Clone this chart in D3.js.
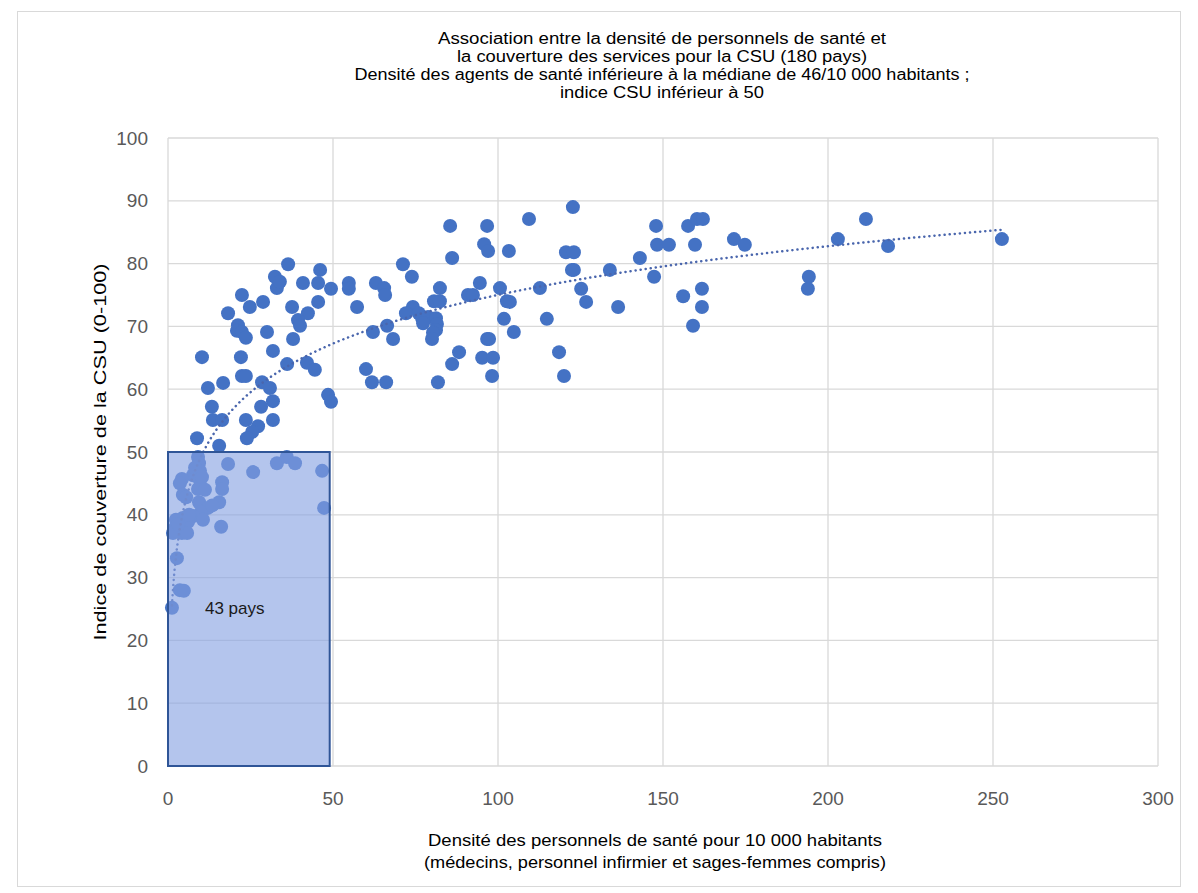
<!DOCTYPE html>
<html>
<head>
<meta charset="utf-8">
<script src="https://cdn.jsdelivr.net/npm/d3@7"></script>
<style>
  body { margin: 0; background: #fff; }
  text { font-family: "Liberation Sans", Arial, sans-serif; }
</style>
</head>
<body>
<div id="chart"></div>
<script>
// Density of health workers per 10 000 (x) vs UHC index (y)
const densite = [
    32.4, 33, 22.4, 24.8, 28.8, 18.2, 21.2, 20.9, 22.4, 23.6, 30, 31.8, 10.3, 22.1, 22.4, 23.6,
    28.5, 16.7, 12.1, 30.9, 31.8, 13.3, 28.2, 13.6, 16.4, 23.6, 31.8, 27.3, 25.5, 23.9, 8.8, 15.5,
    36.4, 33.9, 40.9, 45.5, 46.1, 49.4, 54.8, 54.8, 57.3, 37.6, 42.4, 45.5, 39.4, 40, 37.9, 36.1,
    42.1, 44.5, 60, 48.5, 49.4,
    109.4, 85.5, 96.7, 95.8, 97, 103.3, 86.1, 71.2, 73.9, 63, 65.5, 65.8, 82.4, 94.5, 100.6, 112.7,
    90.9, 92.4, 102.7, 103.6, 80.6, 82.4, 74.2, 72.1, 76, 77, 78.8, 81.2, 77.3, 81.5, 81.2, 80.3,
    80, 66.4, 62.1, 68.2, 101.8, 114.8, 104.8, 96.7, 97.3, 88.2, 95.2, 98.5, 86.1, 98.2, 61.8, 66.1,
    81.8,
    122.7, 147.9, 157.6, 160.3, 162.1, 120.6, 123, 148.2, 151.8, 159.7, 171.5, 174.8, 122.4, 123,
    133.9, 143, 147.3, 125.2, 126.7, 136.4, 156.1, 161.8, 161.8, 159.1, 118.5, 120,
    203, 211.5, 218.2, 252.7, 194.2, 193.9,
    // countries below both thresholds
    9.1, 9.4, 18.2, 25.8, 9.7, 7.6, 4.2, 3.6, 9.7, 16.4, 16.4, 9.1, 4.5, 5.5, 9.4, 15.5,
    12.1, 10, 7.6, 4.5, 2.4, 10.6, 6.1, 2.1, 4.2, 1.5, 5.8, 16.1, 2.7, 3.6, 4.8, 1.2,
    33, 36, 38.5, 46.7, 47.3, 8.2, 10.3, 6.4, 3.1, 11.2, 13.4
];
const indiceCSU = [
    77.9, 76.1, 75, 73.1, 73.9, 72.1, 70.2, 69.3, 69.1, 68.2, 69.1, 66.1, 65.1, 65.1, 62.1, 62.1,
    61.1, 61, 60.2, 60.2, 58.1, 57.2, 57.2, 55.1, 55.1, 55.1, 55.1, 54.1, 53.2, 52.2, 52.2, 51,
    79.9, 77.1, 76.9, 76.9, 79, 76, 76.9, 76, 73.1, 73.1, 72.1, 73.9, 71, 70.1, 68, 64,
    64.2, 63.1, 63.2, 59.1, 58,
    87.1, 86, 86, 83.1, 82, 82, 80.9, 79.9, 77.9, 76.9, 76.1, 75, 76.1, 76.9, 76.1, 76.1,
    75, 75, 74, 73.9, 74, 74, 73.1, 72.1, 72.1, 71.3, 71.5, 71.3, 70.5, 70.4, 69.4, 69,
    68, 70.1, 69.1, 68, 71.2, 71.2, 69.1, 68, 68, 65.9, 65, 65, 64, 62.1, 61.1, 61.1,
    61.1,
    89, 86, 86, 87.1, 87.1, 81.8, 81.8, 83, 83, 83, 83.9, 83, 79, 79,
    79, 80.9, 77.9, 76, 73.9, 73.1, 74.8, 76, 73.1, 70.1, 65.9, 62.1,
    83.9, 87.1, 82.8, 83.9, 77.9, 76,
    49.2, 48.2, 48.1, 46.8, 47, 46.3, 45.7, 45, 45.5, 45.2, 44.1, 44.1, 43.2, 42.8, 42, 42,
    41.1, 40.4, 39.8, 39.5, 39.2, 39.2, 38.9, 37.9, 37.1, 37.1, 37.1, 38.1, 33.1, 28, 27.9, 25.2,
    48.2, 49.2, 48.2, 47, 41.1, 47.5, 46, 40, 38.5, 44, 41.5
];
const xTicks = [0, 50, 100, 150, 200, 250, 300];
const yTicks = [0, 10, 20, 30, 40, 50, 60, 70, 80, 90, 100];
const seuilDensite = 49;
const seuilCSU = 50;
const titre = [
    "Association entre la densité de personnels de santé et",
    "la couverture des services pour la CSU (180 pays)",
    "Densité des agents de santé inférieure à la médiane de 46/10 000 habitants ;",
    "indice CSU inférieur à 50"
];
const titreX = [
    "Densité des personnels de santé pour 10 000 habitants",
    "(médecins, personnel infirmier et sages-femmes compris)"
];
const titreY = "Indice de couverture de la CSU (0-100)";
const etiquetteBoite = "43 pays";

// text widths as measured on the picture
const largeurTitre = [448, 410, 615, 204];
const largeurTitreX = [454, 462];
const longueurTitreY = 377;

const points = densite.map((d, i) => ({ x: d, y: indiceCSU[i] }));

const width = 1198, height = 893;
const margin = { left: 168, top: 138, right: 40, bottom: 127 };

const svg = d3.select("#chart").append("svg")
    .attr("width", width)
    .attr("height", height);

svg.append("rect")
    .attr("x", 17.5).attr("y", 11.5)
    .attr("width", 1163).attr("height", 875)
    .attr("fill", "#fff")
    .attr("stroke", "#d9d9d9");

const xScale = d3.scaleLinear().domain([0, 300]).range([margin.left, width - margin.right]);
const yScale = d3.scaleLinear().domain([0, 100]).range([height - margin.bottom, margin.top]);

// gridlines
svg.append("g").selectAll("line").data(yTicks).join("line")
    .attr("x1", xScale(0)).attr("x2", xScale(300))
    .attr("y1", d => yScale(d)).attr("y2", d => yScale(d))
    .attr("stroke", "#d9d9d9").attr("stroke-width", 1.3);
svg.append("g").selectAll("line").data(xTicks).join("line")
    .attr("x1", d => xScale(d)).attr("x2", d => xScale(d))
    .attr("y1", yScale(0)).attr("y2", yScale(100))
    .attr("stroke", "#d9d9d9").attr("stroke-width", 1.3);

// tick labels
svg.append("g").selectAll("text").data(yTicks).join("text")
    .attr("x", xScale(0) - 20)
    .attr("y", d => yScale(d))
    .attr("dy", "0.35em")
    .attr("text-anchor", "end")
    .attr("fill", "#595959")
    .attr("font-size", 19)
    .text(d => d);
svg.append("g").selectAll("text").data(xTicks).join("text")
    .attr("x", d => xScale(d))
    .attr("y", yScale(0) + 39)
    .attr("text-anchor", "middle")
    .attr("fill", "#595959")
    .attr("font-size", 19)
    .text(d => d);

// points
svg.append("g").selectAll("circle").data(points).join("circle")
    .attr("cx", d => xScale(d.x))
    .attr("cy", d => yScale(d.y))
    .attr("r", 7)
    .attr("fill", "#4472c4");

// logarithmic trendline fitted on the data
const lx = points.map(p => Math.log(p.x));
const mx = d3.mean(lx), my = d3.mean(points, p => p.y);
const a = d3.sum(points, (p, i) => (lx[i] - mx) * (p.y - my)) / d3.sum(lx, v => (v - mx) ** 2);
const b = my - a * mx;
const xExt = d3.extent(densite);
const trend = d3.range(0, 101).map(i => {
    const x = xExt[0] * Math.pow(xExt[1] / xExt[0], i / 100);
    return [x, a * Math.log(x) + b];
});
svg.append("path")
    .datum(trend)
    .attr("fill", "none")
    .attr("stroke", "#4a66ad")
    .attr("stroke-width", 2.5)
    .attr("stroke-linecap", "round")
    .attr("stroke-dasharray", "0.1 5")
    .attr("d", d3.line().x(d => xScale(d[0])).y(d => yScale(d[1])));

// highlight box
svg.append("rect")
    .attr("x", xScale(0))
    .attr("y", yScale(seuilCSU))
    .attr("width", xScale(seuilDensite) - xScale(0))
    .attr("height", yScale(0) - yScale(seuilCSU))
    .attr("fill", "#86a2e2")
    .attr("fill-opacity", 0.62)
    .attr("stroke", "#2f5597")
    .attr("stroke-width", 2);

svg.append("text")
    .attr("x", xScale(11.2))
    .attr("y", yScale(24.2))
    .attr("font-size", 17)
    .attr("fill", "#1a1a1a")
    .text(etiquetteBoite);

// titles
svg.append("g").selectAll("text").data(titre).join("text")
    .attr("x", 662)
    .attr("y", (d, i) => 44 + i * 18)
    .attr("text-anchor", "middle")
    .attr("font-size", 16)
    .attr("fill", "#000")
    .attr("textLength", (d, i) => largeurTitre[i])
    .attr("lengthAdjust", "spacingAndGlyphs")
    .text(d => d);

svg.append("g").selectAll("text").data(titreX).join("text")
    .attr("x", 655)
    .attr("y", (d, i) => 846 + i * 22)
    .attr("text-anchor", "middle")
    .attr("font-size", 17)
    .attr("fill", "#000")
    .attr("textLength", (d, i) => largeurTitreX[i])
    .attr("lengthAdjust", "spacingAndGlyphs")
    .text(d => d);

svg.append("text")
    .attr("transform", `translate(106, ${yScale(50)}) rotate(-90)`)
    .attr("text-anchor", "middle")
    .attr("font-size", 17)
    .attr("fill", "#000")
    .attr("textLength", longueurTitreY)
    .attr("lengthAdjust", "spacingAndGlyphs")
    .text(titreY);
</script>
</body>
</html>
